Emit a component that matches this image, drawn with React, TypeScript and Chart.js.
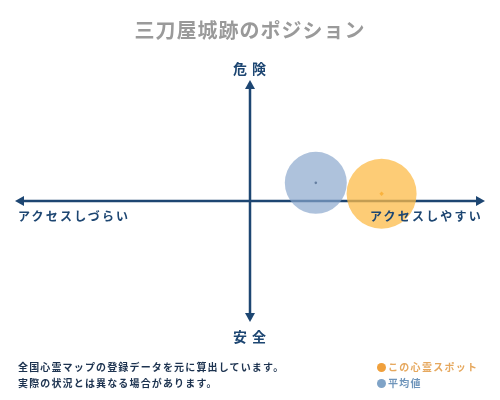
import React, { useEffect, useRef } from "react";
import { Chart, registerables } from "chart.js";

Chart.register(...registerables);

const chartTitle = "三刀屋城跡のポジション";
const topLabel = "危険";
const bottomLabel = "安全";
const leftLabel = "アクセスしづらい";
const rightLabel = "アクセスしやすい";
const footerLines = ["全国心霊マップの登録データを元に算出しています。", "実際の状況とは異なる場合があります。"];
const seriesNames = ["この心霊スポット", "平均値"];
// [x (access), y (danger), bubble size]
const spotPoint = [0.56, 0.06, 35];
const averagePoint = [0.28, 0.15, 31];

const NAVY = "#1d4672";
const FONT = '"Noto Sans CJK JP", serif';

const axesPlugin = {
  id: "quadAxes",
  beforeDatasetsDraw(chart: any) {
    const { ctx, scales } = chart;
    const x0 = scales.x.getPixelForValue(-1);
    const x1 = scales.x.getPixelForValue(1);
    const xc = scales.x.getPixelForValue(0);
    const y0 = scales.y.getPixelForValue(1);
    const y1 = scales.y.getPixelForValue(-1);
    const yc = scales.y.getPixelForValue(0);
    ctx.save();
    ctx.strokeStyle = NAVY;
    ctx.fillStyle = NAVY;
    ctx.lineWidth = 2.5;
    ctx.beginPath();
    ctx.moveTo(x0 + 4, yc);
    ctx.lineTo(x1 - 4, yc);
    ctx.moveTo(xc, y0 + 4);
    ctx.lineTo(xc, y1 - 4);
    ctx.stroke();
    const a = 9, w = 5;
    ctx.beginPath();
    ctx.moveTo(x1, yc); ctx.lineTo(x1 - a, yc - w); ctx.lineTo(x1 - a, yc + w); ctx.closePath(); ctx.fill();
    ctx.beginPath();
    ctx.moveTo(x0, yc); ctx.lineTo(x0 + a, yc - w); ctx.lineTo(x0 + a, yc + w); ctx.closePath(); ctx.fill();
    ctx.beginPath();
    ctx.moveTo(xc, y0); ctx.lineTo(xc - w, y0 + a); ctx.lineTo(xc + w, y0 + a); ctx.closePath(); ctx.fill();
    ctx.beginPath();
    ctx.moveTo(xc, y1); ctx.lineTo(xc - w, y1 - a); ctx.lineTo(xc + w, y1 - a); ctx.closePath(); ctx.fill();
    ctx.restore();
  },
};

export default function App() {
  const ref = useRef<HTMLCanvasElement>(null);
  useEffect(() => {
    if (!ref.current) return;
    const chart = new Chart(ref.current, {
      type: "bubble",
      data: {
        datasets: [
          {
            label: seriesNames[1],
            data: [{ x: averagePoint[0], y: averagePoint[1], r: averagePoint[2] }],
            backgroundColor: "rgba(135,165,203,0.68)",
            borderWidth: 0,
          },
          {
            label: seriesNames[0],
            data: [{ x: spotPoint[0], y: spotPoint[1], r: spotPoint[2] }],
            backgroundColor: "rgba(252,187,72,0.75)",
            borderWidth: 0,
          },
          {
            type: "scatter",
            label: "avg-center",
            data: [{ x: averagePoint[0], y: averagePoint[1] }],
            pointRadius: 1.3,
            backgroundColor: "#1d2f48",
            borderWidth: 0,
          } as any,
          {
            type: "scatter",
            label: "spot-center",
            data: [{ x: spotPoint[0], y: spotPoint[1] }],
            pointRadius: 2.2,
            pointStyle: "rectRot",
            backgroundColor: "#f39a1e",
            borderWidth: 0,
          } as any,
        ],
      },
      plugins: [axesPlugin],
      options: {
        animation: false,
        responsive: true,
        maintainAspectRatio: false,
        layout: { padding: { left: 0, right: 0, top: 80, bottom: 78 } },
        scales: {
          x: { type: "linear", min: -1, max: 1, display: false },
          y: { type: "linear", min: -1, max: 1, display: false },
        },
        plugins: {
          legend: { display: false },
          tooltip: { enabled: false },
          title: { display: false },
        },
        elements: { point: { hoverRadius: 0 } },
        clip: false as any,
      },
    });
    return () => chart.destroy();
  }, []);

  const base: React.CSSProperties = { position: "absolute", fontFamily: FONT, fontWeight: 700, whiteSpace: "nowrap" };

  return (
    <div style={{ position: "fixed", left: 0, top: 0, width: 500, height: 400, background: "#fff", overflow: "hidden" }}>
      <div style={{ position: "absolute", left: -20, top: 0, width: 540, height: 400 }}>
        <canvas ref={ref} />
      </div>
      <div style={{ ...base, left: 0, width: 500, top: 15, textAlign: "center", fontSize: 20, color: "#9a9a9a", letterSpacing: 1 }}>
        {chartTitle}
      </div>
      <div style={{ ...base, left: 0, width: 504, top: 58, textAlign: "center", fontSize: 14, color: NAVY, letterSpacing: 5 }}>
        {topLabel}
      </div>
      <div style={{ ...base, left: 0, width: 504, top: 326, textAlign: "center", fontSize: 14, color: NAVY, letterSpacing: 5 }}>
        {bottomLabel}
      </div>
      <div style={{ ...base, left: 18, top: 207, fontSize: 12, color: NAVY, letterSpacing: 2.2 }}>{leftLabel}</div>
      <div style={{ ...base, left: 370, top: 207, fontSize: 12, color: NAVY, letterSpacing: 2.2 }}>{rightLabel}</div>
      <div style={{ ...base, left: 18, top: 359, fontSize: 10, lineHeight: "16px", color: "#1d3350", letterSpacing: 1.15 }}>
        <div>{footerLines[0]}</div>
        <div>{footerLines[1]}</div>
      </div>
      <div style={{ ...base, left: 377, top: 359, fontSize: 10, lineHeight: "16px", letterSpacing: 1.3 }}>
        <div style={{ color: "#e6a85e" }}>
          <span style={{ display: "inline-block", width: 9, height: 9, borderRadius: 5, background: "#f0a03c", marginRight: 2, verticalAlign: -1 }} />
          {seriesNames[0]}
        </div>
        <div style={{ color: "#6f95bb" }}>
          <span style={{ display: "inline-block", width: 9, height: 9, borderRadius: 5, background: "#7fa3c7", marginRight: 2, verticalAlign: -1 }} />
          {seriesNames[1]}
        </div>
      </div>
    </div>
  );
}
